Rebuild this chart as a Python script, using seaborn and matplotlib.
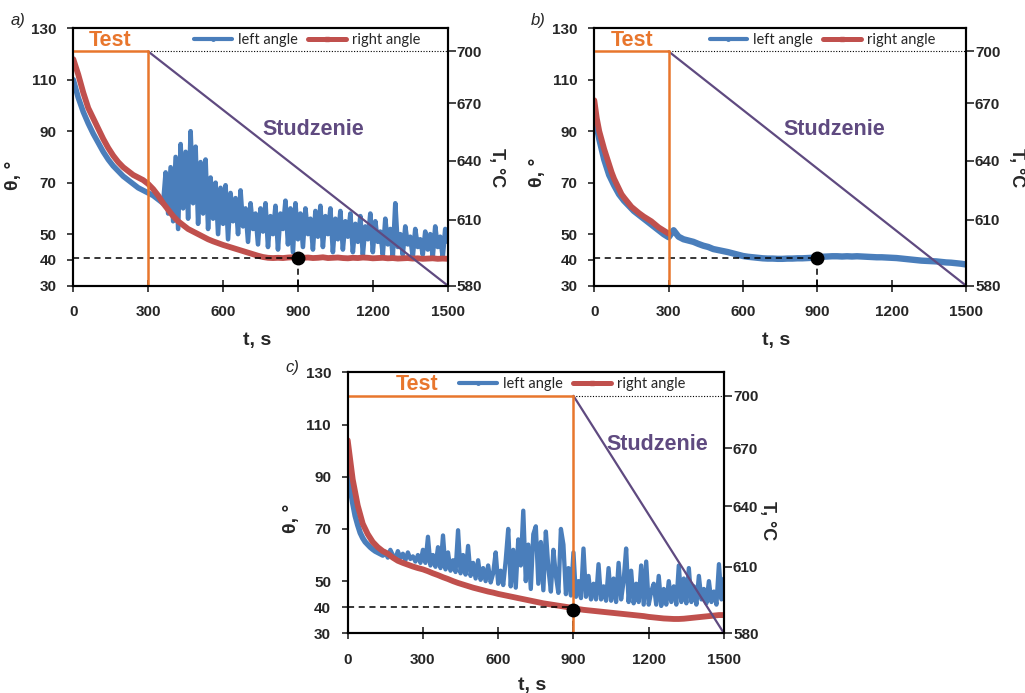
import numpy as np
import matplotlib
matplotlib.use('Agg')
import matplotlib.pyplot as plt
from matplotlib.lines import Line2D
import seaborn as sns

# ---- data (theta in degrees, time in s) ----
X_TICKS = [0, 300, 600, 900, 1200, 1500]
THETA_TICKS = [30, 40, 50, 70, 90, 110, 130]
T_TICKS = [580, 610, 640, 670, 700]
# the temperature axis in the original is not linear: where each T tick sits on the theta scale
T_TICK_POS = [30, 55.5, 78.6, 100.9, 121.0]

# temperature programme: hold 700 C during the test, then cool to 580 C at 1500 s
A_TEST_END = 300
B_TEST_END = 300
C_TEST_END = 900
T_PROFILE = [700, 700, 580]

# panel a) right angle, every 20 s from 0 to 1500
A_RIGHT = [118, 112, 105, 99, 95, 91, 87, 83.5, 80.5, 78,
           76, 74.5, 73, 72, 71, 69.5, 67.5, 65, 62, 59.5,
           57, 55, 53.5, 52, 51, 50, 49, 48, 47.2, 46.5,
           45.8, 45.2, 44.6, 44, 43.4, 42.8, 42.2, 41.6, 41.1, 40.8,
           40.7, 40.8, 40.7, 40.9, 41, 41, 40.8, 40.9, 40.7, 40.8,
           41, 40.7, 40.8, 40.9, 40.7, 40.6, 40.8, 40.7, 40.9, 40.8,
           40.6, 40.7, 40.8, 40.6, 40.7, 40.5, 40.6, 40.7, 40.5, 40.6,
           40.4, 40.5, 40.6, 40.4, 40.5, 40.4]
# panel a) left angle, every 20 s from 0 to 340, then every 10 s from 360 to 1500
A_LEFT_START = [110, 103, 97.5, 93, 89, 85.5, 82, 79, 76.5, 74.5,
                72.5, 71, 69.5, 68, 67, 66, 65, 63.5]
A_LEFT_NOISY = [62, 74, 58, 76, 55, 80, 52, 85, 60, 82,
                56, 90, 62, 84, 54, 78, 58, 79, 52, 72,
                56, 70, 50, 68, 54, 69, 48, 66, 55, 64,
                50, 67, 53, 60, 47, 62, 52, 58, 46, 60,
                51, 62, 45, 57, 50, 61, 44, 58, 52, 63,
                46, 60, 43, 62, 48, 58, 45, 60, 50, 56,
                44, 59, 49, 61, 45, 57, 50, 60, 43, 56,
                48, 59, 44, 55, 49, 58, 43, 54, 47, 57,
                42, 53, 48, 58, 43, 55, 47, 51, 42, 56,
                46, 52, 41, 62, 45, 50, 42, 53, 46, 49,
                41, 52, 45, 48, 42, 51, 44, 50, 41, 53,
                45, 49, 41, 52, 47]

# panel b) right angle, every 10 s from 0 to 300
B_RIGHT = [102, 95, 90, 86.5, 83, 80, 77, 74, 71.5, 69.5,
           67.5, 65.5, 64.2, 63, 61.8, 60.6, 59.8, 59, 58.2, 57.5,
           56.8, 56.2, 55.6, 55, 54.2, 53.4, 52.6, 52, 51.4, 50.8,
           50.2]
# panel b) left angle, every 20 s from 0 to 1500
B_LEFT = [97, 87, 79, 73, 69, 65.5, 63, 61, 59, 57.5,
          56, 54.5, 53, 51.5, 50, 48.8, 51.5, 49, 48, 47.5,
          47, 46.2, 45.5, 45, 44.2, 43.8, 43.4, 43, 42.5, 42,
          41.5, 41.2, 41, 40.8, 40.6, 40.5, 40.5, 40.4, 40.4, 40.5,
          40.5, 40.6, 40.6, 40.7, 40.8, 41, 41.2, 41.3, 41.4, 41.4,
          41.3, 41.4, 41.3, 41.4, 41.3, 41.2, 41.1, 41, 41, 40.9,
          40.8, 40.7, 40.5, 40.3, 40.1, 39.9, 39.7, 39.6, 39.5, 39.4,
          39.2, 39, 38.9, 38.7, 38.5, 38.2]

# panel c) right angle, every 20 s from 0 to 1500
C_RIGHT = [104, 89, 79, 72, 68, 65, 63, 61.5, 60.5, 59,
           57.8, 57, 56.3, 55.6, 55, 54.5, 53.8, 53, 52.3, 51.5,
           50.8, 50, 49.3, 48.7, 48.1, 47.5, 47, 46.5, 46, 45.6,
           45.1, 44.7, 44.3, 43.9, 43.5, 43.1, 42.7, 42.3, 41.9, 41.5,
           41.2, 40.9, 40.6, 40.3, 40, 39.6, 39.3, 39, 38.8, 38.6,
           38.4, 38.2, 38, 37.8, 37.6, 37.4, 37.2, 37, 36.8, 36.6,
           36.3, 36.1, 35.9, 35.7, 35.6, 35.5, 35.5, 35.6, 35.8, 36,
           36.2, 36.4, 36.6, 36.8, 37, 37]
# panel c) left angle, every 10 s from 0 to 140, then every 10 s from 150 to 1500
C_LEFT_START = [97, 86, 80, 75, 71.5, 68.5, 66.5, 65, 64, 63,
                62.2, 61.5, 61, 60.5, 60]
C_LEFT_NOISY = [61, 59, 62, 60, 58.5, 61.5, 59, 60.5, 58, 61,
                58.5, 59.5, 57.5, 60, 57,
                62, 57, 67, 56, 60, 55.5, 63, 55, 67.5, 54.5,
                61, 54, 58, 53.5, 69.5, 53, 60, 52.5, 63.5, 52,
                57, 51, 58, 50.5, 55, 50, 56, 49.5, 53, 61,
                49, 54, 48.5, 58, 70, 48, 62, 47.5, 66, 56,
                77, 50, 64, 47, 68, 71, 49, 65, 46.5, 69,
                55, 46, 62, 52, 45.5, 70, 64, 45, 55, 44.5,
                61, 44, 50, 43.5, 62.5, 44, 52, 43, 49, 43,
                56.5, 43, 48, 42.5, 55, 42.5, 51, 42, 57, 43,
                50, 62.5, 42, 54, 41.5, 49, 42, 56, 41, 57.5,
                41, 46, 49, 41, 52, 40.5, 47, 41, 50, 42,
                48, 41, 56, 42, 51, 41.5, 55, 42, 48, 41,
                52, 43, 47, 41.5, 50, 42, 46, 41, 56.5, 43,
                51]

BLUE = '#4A7EBB'
RED = '#C0504D'
ORANGE = '#E8762D'
PURPLE = '#5F4A80'
FONT = ['Liberation Sans', 'DejaVu Sans']


def theta_of_T(T):
    return np.interp(T, T_TICKS, T_TICK_POS)


def panel(ax, left_parts, right_t, right_v, test_end, dot_y, dash_y,
          test_x, stud_xy, leg_x, ylab_xy, tlab_xy, xlab_y):
    # left angle may come in pieces (smooth start, noisy rest), each with its own width
    for (lt, lv, lw) in left_parts:
        sns.lineplot(x=lt, y=lv, ax=ax, color=BLUE, lw=lw,
                     estimator=None, sort=False, legend=False, zorder=2)
    sns.lineplot(x=right_t, y=right_v, ax=ax, color=RED, lw=4.2,
                 estimator=None, sort=False, legend=False, zorder=3)

    prof_t = [0, test_end, 1500]
    prof_y = theta_of_T(T_PROFILE)
    # test hold (orange), cooling (purple), 700 C reference (dotted)
    ax.plot(prof_t[:2], prof_y[:2], color=ORANGE, lw=1.8, zorder=5)
    ax.plot([test_end, test_end], [prof_y[1], 30], color=ORANGE, lw=1.8, zorder=5)
    ax.plot(prof_t[1:], prof_y[1:], color=PURPLE, lw=1.6, zorder=4)
    ax.plot([test_end, 1500], [prof_y[1], prof_y[1]], color='black', lw=0.8,
            ls=(0, (1, 1.5)), zorder=4)

    ax.plot([0, 900], [dash_y, dash_y], color='black', lw=1.1, ls=(0, (4, 3)), zorder=4)
    ax.plot([900, 900], [dot_y, 30], color='black', lw=1.1, ls=(0, (4, 3)), zorder=4)
    ax.plot([900], [dot_y], 'o', color='black', ms=9, zorder=6)

    ax.text(test_x, 125.3, 'Test', color=ORANGE, fontsize=15.5, ha='center',
            va='center', family=FONT, fontweight='bold')
    ax.text(stud_xy[0], stud_xy[1], 'Studzenie', color=PURPLE, fontsize=15.5,
            ha='center', va='center', family=FONT, fontweight='bold')

    ax.set_xlim(0, 1500)
    ax.set_ylim(30, 130)
    ax.set_xticks(X_TICKS)
    ax.set_yticks(THETA_TICKS)
    ax.tick_params(axis='x', direction='inout', length=8, width=1.2, pad=10,
                   labelsize=11, bottom=True, top=False)
    ax.tick_params(axis='y', direction='out', length=4, width=1.2, pad=8,
                   labelsize=11, left=True, right=False)
    ax.set_xlabel('t, s', fontsize=14, fontweight='bold')
    ax.xaxis.set_label_coords(0.49, xlab_y)
    ax.set_ylabel('θ, °', fontsize=14, fontweight='bold')
    ax.yaxis.set_label_coords(*ylab_xy)

    handles = [Line2D([], [], color=BLUE, lw=3, marker='o', ms=2.5),
               Line2D([], [], color=RED, lw=3.6, marker='s', ms=2.5)]
    ax.legend(handles, ['left angle', 'right angle'], loc='center',
              bbox_to_anchor=(leg_x, 0.955), ncol=2, frameon=False, numpoints=1,
              handlelength=2.6, columnspacing=0.7, handletextpad=0.4,
              borderpad=0, prop={'family': ['Lato', 'DejaVu Sans'],
                                 'size': 10.5, 'weight': 'normal'})

    tw = ax.twinx()
    tw.set_ylim(30, 130)
    tw.set_yticks(T_TICK_POS)
    tw.set_yticklabels([str(v) for v in T_TICKS])
    tw.tick_params(axis='y', direction='out', length=6, width=1.2, pad=0.5,
                   labelsize=11)
    tw.set_ylabel('T, °C', rotation=270, fontsize=13, va='center', fontweight='bold')
    tw.yaxis.set_label_coords(*tlab_xy)

    for a in (ax, tw):
        for s in a.spines.values():
            s.set_color('black')
            s.set_linewidth(1.5)
        for lbl in a.get_xticklabels() + a.get_yticklabels():
            lbl.set_fontweight('bold')
    return tw


sns.set_theme(style='white')
plt.rcParams['font.family'] = FONT
plt.rcParams['font.weight'] = 'bold'
plt.rcParams['axes.labelweight'] = 'bold'

fig = plt.figure(figsize=(10.25, 6.93), dpi=100)
ax_a = fig.add_axes([0.0715, 0.5879, 0.3653, 0.3713])
ax_b = fig.add_axes([0.5798, 0.5879, 0.3626, 0.3713])
ax_c = fig.add_axes([0.3392, 0.0861, 0.3671, 0.3766])

a_left = [(np.linspace(0, 360, len(A_LEFT_START) + 1), np.array(A_LEFT_START + A_LEFT_NOISY[:1]), 4.0),
          (np.linspace(360, 1500, len(A_LEFT_NOISY)), np.array(A_LEFT_NOISY), 3.3)]
panel(ax_a, a_left, np.linspace(0, 1500, len(A_RIGHT)), np.array(A_RIGHT),
      A_TEST_END, 40.8, 40.8, 147, (963, 90.5), 0.624,
      (-0.137, 0.43), (1.13, 0.46), -0.18)

b_left = [(np.linspace(0, 1500, len(B_LEFT)), np.array(B_LEFT), 4.6)]
panel(ax_b, b_left, np.linspace(0, 300, len(B_RIGHT)), np.array(B_RIGHT),
      B_TEST_END, 40.8, 40.8, 152, (970, 90.5), 0.614,
      (-0.13, 0.44), (1.137, 0.46), -0.18)

c_left = [(np.linspace(0, 150, len(C_LEFT_START) + 1), np.array(C_LEFT_START + C_LEFT_NOISY[:1]), 4.0),
          (np.linspace(150, 1500, len(C_LEFT_NOISY)), np.array(C_LEFT_NOISY), 3.1)]
panel(ax_c, c_left, np.linspace(0, 1500, len(C_RIGHT)), np.array(C_RIGHT),
      C_TEST_END, 39.0, 40.2, 278, (1235, 102.4), 0.596,
      (-0.127, 0.44), (1.117, 0.43), -0.168)

fig.text(0.0176, 0.971, 'a)', style='italic', fontweight='normal', fontsize=12,
         ha='center', va='center')
fig.text(0.525, 0.971, 'b)', style='italic', fontweight='normal', fontsize=12,
         ha='center', va='center')
fig.text(0.285, 0.469, 'c)', style='italic', fontweight='normal', fontsize=12,
         ha='center', va='center')

fig.savefig('out.png', dpi=100, facecolor='white')
